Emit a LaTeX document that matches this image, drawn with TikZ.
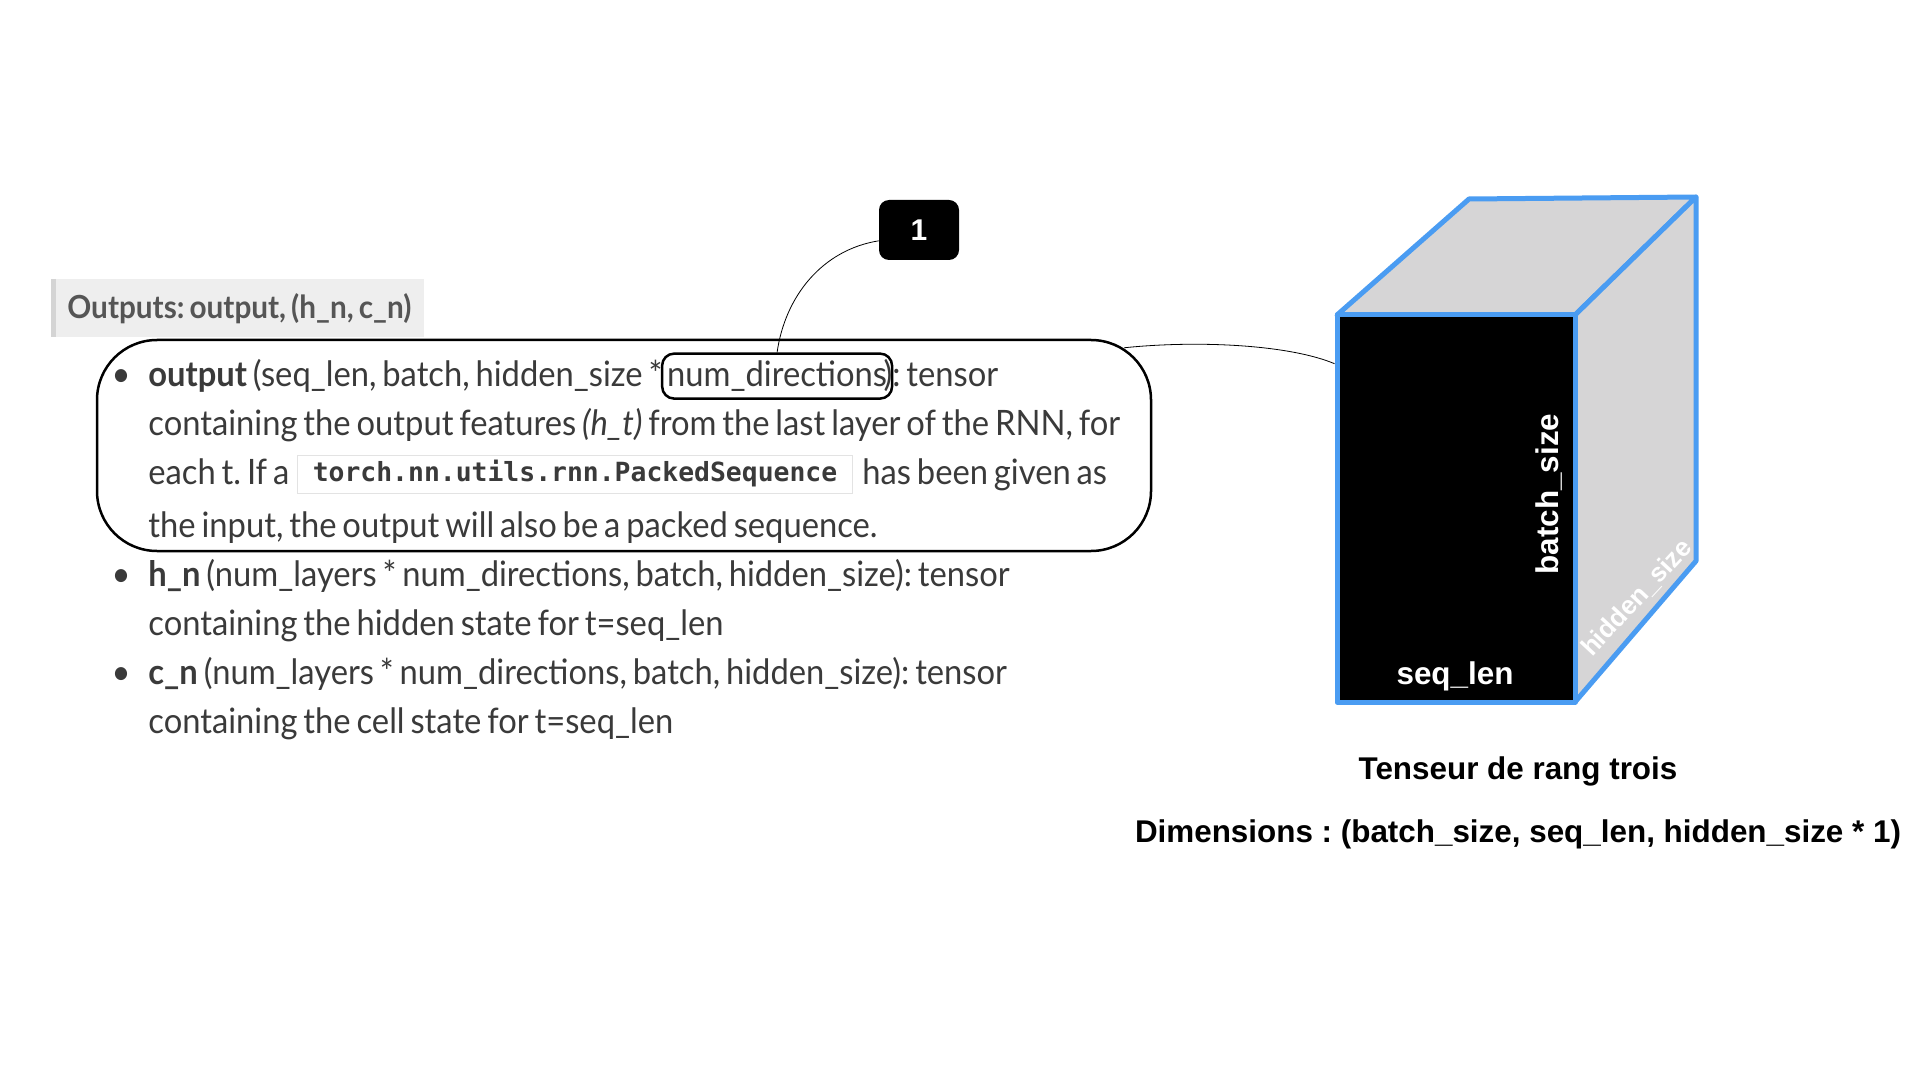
\documentclass[tikz,border=0pt]{standalone}
\usepackage{fontspec}
\setmainfont{Lato}[FakeStretch=0.935,WordSpace=0.7]
\setmonofont{DejaVu Sans Mono}
\newfontfamily\helv{Liberation Sans}
\frenchspacing
\usetikzlibrary{calc}
\definecolor{txtgray}{HTML}{3A3A3A}
\definecolor{hdrbg}{HTML}{EEEEEE}
\definecolor{hdrbar}{HTML}{D4D4D4}
\definecolor{hdrtxt}{HTML}{555555}
\definecolor{codeline}{HTML}{E3E3E3}
\definecolor{cubeblue}{HTML}{4A9CF2}
\definecolor{cubegray}{HTML}{D6D5D6}
\tikzset{
  doc/.style={font=\fontsize{17.5}{20}\selectfont,text=txtgray,inner sep=0pt},
  docline/.style={doc,anchor=base west},
  docdot/.style={doc,anchor=base},
  numbox/.style={doc,draw=black,line width=1.25pt,rounded corners=6pt,minimum height=22.5pt,inner xsep=2.5pt},
  codebox/.style={draw=codeline,fill=white,line width=0.5pt,minimum width=277.5pt,minimum height=19pt,inner sep=0pt,
    font=\ttfamily\bfseries\fontsize{13.2}{16}\selectfont,text=txtgray},
  wrapbox/.style={draw=black,line width=1.25pt,rounded corners=30pt,minimum width=527pt,minimum height=105.5pt},
  link/.style={black,line width=0.4pt},
  cubeedge/.style={draw=cubeblue,line width=2.5pt,line join=round},
  dimlabel/.style={text=white,font=\helv\bfseries\fontsize{15.7}{18}\selectfont,inner sep=0pt},
  caption/.style={font=\helv\bfseries\fontsize{15.7}{18}\selectfont,inner sep=0pt}
}
\begin{document}
\begin{tikzpicture}[x=0.5pt,y=-0.5pt]
\useasboundingbox[fill=white] (0,0) rectangle (1920,1080);
% header
\fill[hdrbg] (51,279) rectangle (424,337);
\draw[hdrbar,line width=2.5pt] (53.5,279) -- (53.5,337);
\node[anchor=west,inner sep=0pt,text=hdrtxt,font=\bfseries\fontsize{15.9}{18}\selectfont] (hdr) at (67,309) {Outputs: output, (h\_n, c\_n)};
% framed first item
\node[wrapbox] (wrap) at (624,445.5) {};
\foreach \y/\n in {386.5/b1,586.5/b2,684.5/b3} \node[docdot] (\n) at (121,\y) {\textbullet};
\node[docline] (l1a) at (148,386.5) {\textbf{output} (seq\_len, batch, hidden\_size *};
\node[numbox,anchor=base west] (numdir) at ([xshift=-1pt]l1a.base east) {num\_directions};
\node[docline] (l1b) at ([xshift=-5pt]numdir.base east) {): tensor};
\node[docline] (l2) at (148,435.5) {containing the output features \textit{(h\_t)} from the last layer of the RNN, for};
\node[docline] (l3a) at (148,484) {each t. If a};
\node[codebox] (code) at (575,474) {torch.nn.utils.rnn.PackedSequence};
\node[docline] (l3b) at (862,484) {has been given as};
\node[docline] (l4) at (148,537.5) {the input, the output will also be a packed sequence.};
\node[docline] (l5) at (148,586.5) {\textbf{h\_n} (num\_layers * num\_directions, batch, hidden\_size): tensor};
\node[docline] (l6) at (148,635.5) {containing the hidden state for t=seq\_len};
\node[docline] (l7) at (148,684.5) {\textbf{c\_n} (num\_layers * num\_directions, batch, hidden\_size): tensor};
\node[docline] (l8) at (148,733.5) {containing the cell state for t=seq\_len};
% callout
\node[fill=black,rounded corners=5pt,minimum width=40pt,minimum height=30pt,text=white,
  font=\helv\bfseries\fontsize{15}{18}\selectfont] (call) at (919,230) {1};
\draw[link] (numdir.north) .. controls ($(numdir.north)+(8,-56)$) and (822,250) .. (call.195);
% cube
\coordinate (ftl) at (1337,315);
\coordinate (ftr) at (1575,315);
\coordinate (fbr) at (1575,702);
\coordinate (btl) at (1469,199);
\coordinate (btr) at (1696,197);
\coordinate (bbr) at (1696,561);
\filldraw[cubeedge,fill=cubegray] (ftl) -- (btl) -- (btr) -- (ftr) -- cycle;
\filldraw[cubeedge,fill=cubegray] (ftr) -- (btr) -- (bbr) -- (fbr) -- cycle;
\node[cubeedge,fill=black,minimum width=119pt,minimum height=193.5pt] (front) at (1456,508.5) {};
\node[dimlabel] (seq) at (1455,676) {seq\_len};
\node[dimlabel,rotate=90] (batch) at (1549,494) {batch\_size};
\node[dimlabel,font=\helv\bfseries\fontsize{13}{15}\selectfont,rotate=47] (hid) at (1637,598) {hidden\_size};
\draw[link] ($(wrap.north east)+(-28,9)$) .. controls (1200,340) and (1290,345) .. (front.130);
% captions
\node[caption] (title) at (1518,771) {Tenseur de rang trois};
\node[caption] (dims) at (1518,834) {Dimensions : (batch\_size, seq\_len, hidden\_size * 1)};
\end{tikzpicture}
\end{document}
